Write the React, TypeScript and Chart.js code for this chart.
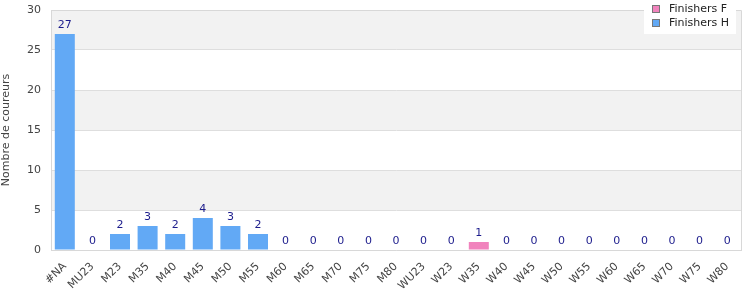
import React, { useEffect, useRef } from "react";
import { Chart, registerables } from "chart.js";

Chart.register(...registerables);

const categories = ["#NA", "MU23", "M23", "M35", "M40", "M45", "M50", "M55", "M60", "M65", "M70", "M75", "M80", "WU23", "W23", "W35", "W40", "W45", "W50", "W55", "W60", "W65", "W70", "W75", "W80"];
const finishersF = [0, 0, 0, 0, 0, 0, 0, 0, 0, 0, 0, 0, 0, 0, 0, 1, 0, 0, 0, 0, 0, 0, 0, 0, 0];
const finishersH = [27, 0, 2, 3, 2, 4, 3, 2, 0, 0, 0, 0, 0, 0, 0, 0, 0, 0, 0, 0, 0, 0, 0, 0, 0];
const yTicks = [0, 5, 10, 15, 20, 25, 30];

const FONT = "'DejaVu Sans', sans-serif";
const PINK = "#f183bd";
const BLUE = "#62a9f5";

const bandsPlugin = {
  id: "bands",
  beforeDraw(chart: any) {
    const { ctx, chartArea, scales } = chart;
    const y = scales.y;
    ctx.save();
    ctx.fillStyle = "#f2f2f2";
    for (let i = 0; i < yTicks.length - 1; i++) {
      if ((yTicks.length - 2 - i) % 2 === 0) {
        const top = y.getPixelForValue(yTicks[i + 1]);
        const bot = y.getPixelForValue(yTicks[i]);
        ctx.fillRect(chartArea.left, top, chartArea.right - chartArea.left, bot - top);
      }
    }
    ctx.restore();
  },
  afterDraw(chart: any) {
    const { ctx, chartArea } = chart;
    ctx.save();
    ctx.strokeStyle = "#d8d8d8";
    ctx.lineWidth = 1;
    ctx.beginPath();
    ctx.moveTo(chartArea.left, chartArea.top + 0.5);
    ctx.lineTo(chartArea.right + 0.5, chartArea.top + 0.5);
    ctx.lineTo(chartArea.right + 0.5, chartArea.bottom);
    ctx.stroke();
    ctx.restore();
  },
};

const labelsPlugin = {
  id: "totals",
  afterDatasetsDraw(chart: any) {
    const { ctx, scales } = chart;
    ctx.save();
    ctx.font = `11px ${FONT}`;
    ctx.fillStyle = "#1c1c8c";
    ctx.textAlign = "center";
    ctx.textBaseline = "bottom";
    categories.forEach((_, i) => {
      const total = finishersF[i] + finishersH[i];
      const x = scales.x.getPixelForValue(i);
      const y = scales.y.getPixelForValue(total);
      ctx.fillText(String(total), x, y - 3);
    });
    ctx.restore();
  },
};

const legendPlugin = {
  id: "customLegend",
  afterDraw(chart: any) {
    const { ctx } = chart;
    const items = [
      { label: "Finishers F", color: PINK },
      { label: "Finishers H", color: BLUE },
    ];
    ctx.save();
    ctx.fillStyle = "#ffffff";
    ctx.fillRect(644, 0, 92, 34);
    ctx.font = `11px ${FONT}`;
    ctx.textBaseline = "middle";
    ctx.textAlign = "left";
    items.forEach((it, i) => {
      const cy = 9 + i * 14;
      ctx.fillStyle = it.color;
      ctx.fillRect(652, cy - 4, 8, 8);
      ctx.strokeStyle = "#777";
      ctx.lineWidth = 1;
      ctx.strokeRect(652.5, cy - 3.5, 7, 7);
      ctx.fillStyle = "#222";
      ctx.fillText(it.label, 669, cy);
    });
    ctx.restore();
  },
};

export default function App() {
  const ref = useRef<HTMLCanvasElement>(null);
  useEffect(() => {
    document.body.style.margin = "0";
    const chart = new Chart(ref.current!, {
      type: "bar",
      data: {
        labels: categories,
        datasets: [
          { label: "Finishers F", data: finishersF, backgroundColor: PINK, borderWidth: 0, barPercentage: 0.725, categoryPercentage: 1 },
          { label: "Finishers H", data: finishersH, backgroundColor: BLUE, borderWidth: 0, barPercentage: 0.725, categoryPercentage: 1 },
        ],
      },
      options: {
        animation: false,
        responsive: false,
        maintainAspectRatio: false,
        layout: { padding: { top: 10, right: 9, left: 0, bottom: 0 } },
        plugins: {
          legend: { display: false },
          tooltip: { enabled: false },
        },
        scales: {
          x: {
            stacked: true,
            grid: { display: false },
            border: { color: "#d8d8d8" },
            ticks: {
              font: { family: FONT, size: 11 },
              color: "#444",
              minRotation: 45,
              maxRotation: 45,
              autoSkip: false,
              padding: 2,
            },
            afterFit(scale: any) {
              scale.height = 50;
              scale.paddingLeft = 0;
              scale.paddingRight = 0;
            },
          },
          y: {
            stacked: true,
            min: 0,
            max: 30,
            ticks: {
              stepSize: 5,
              font: { family: FONT, size: 11 },
              color: "#444",
              padding: 10,
            },
            grid: { color: "#dedede", drawTicks: false },
            border: { color: "#d8d8d8" },
            title: {
              display: true,
              text: "Nombre de coureurs",
              font: { family: FONT, size: 11 },
              color: "#444",
              padding: 0,
            },
            afterFit(scale: any) {
              scale.width = 51;
              scale.paddingTop = 0;
              scale.paddingBottom = 0;
            },
          },
        },
      },
      plugins: [bandsPlugin, labelsPlugin, legendPlugin],
    });
    return () => chart.destroy();
  }, []);
  return (
    <div style={{ width: 750, height: 300 }}>
      <canvas ref={ref} width={750} height={300} style={{ width: 750, height: 300 }} />
    </div>
  );
}
